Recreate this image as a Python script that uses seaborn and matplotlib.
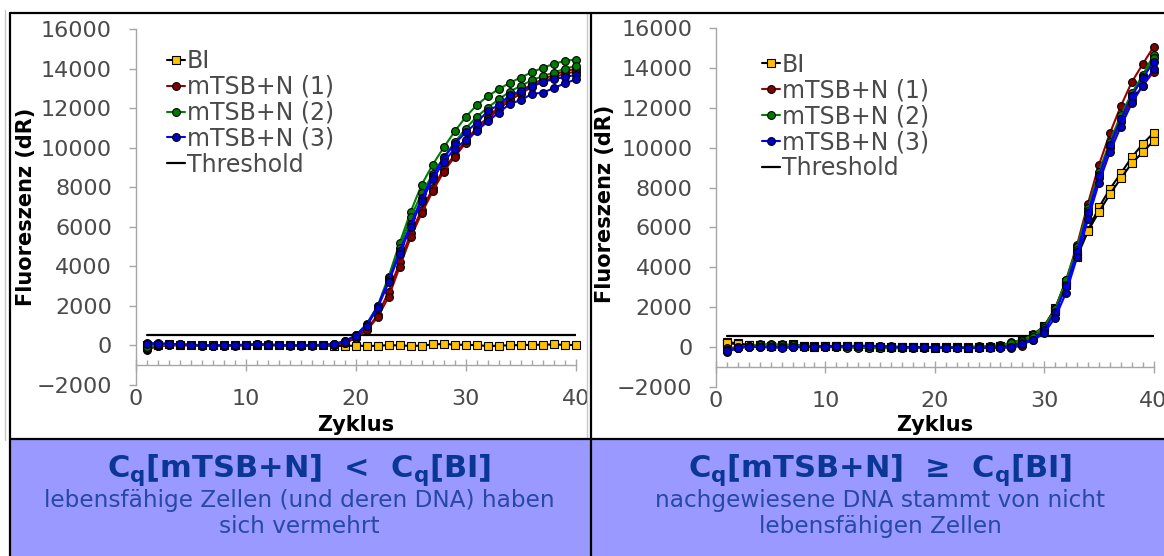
import matplotlib
matplotlib.use("Agg")
import matplotlib.pyplot as plt
from matplotlib.lines import Line2D
from matplotlib.patches import Rectangle
from matplotlib.ticker import MultipleLocator
import seaborn as sns
import pandas as pd

# ---------------- data ----------------
cycles = list(range(1, 41))

# left panel (Cq[mTSB+N] < Cq[BI])
left_bi_1 = [30, 40, 50, 40, 30, 20, 10, 20, 10, 30, 40, 30, 20, 10, 10, 0, 0, -20, -20, -10,
             -20, -20, 20, 0, -20, -10, 50, 80, 40, 30, 20, -30, -10, 10, 20, 30, 40, 50, 30, 20]
left_m1_1 = [-220, -40, 0, 10, 10, -20, -10, 0, -10, 20, 30, 20, 10, 0, -10, -10, 0, 20, 120, 400,
             810, 1540, 2720, 4200, 5670, 6860, 7950, 8930, 9650, 10360, 11030, 11540, 12080, 12510, 12880, 13220, 13470, 13690, 13890, 13990]
left_m1_2 = [-180, -20, 10, 20, 0, -10, -20, -10, 0, 20, 30, 20, 0, -10, -10, 0, 10, 30, 110, 380,
             760, 1430, 2460, 3980, 5470, 6700, 7800, 8800, 9550, 10250, 10900, 11450, 11950, 12400, 12750, 13080, 13350, 13560, 13750, 13860]
left_m2_1 = [-120, 60, 80, 60, 30, 0, -20, -10, 0, 20, 50, 40, 20, 0, 10, 0, 20, 60, 220, 505,
             1095, 2000, 3490, 5190, 6770, 8140, 9150, 10020, 10830, 11570, 12160, 12620, 12970, 13290, 13560, 13830, 14050, 14250, 14400, 14470]
left_m2_2 = [-60, 40, 60, 40, 20, 0, -20, -10, 0, 20, 40, 30, 10, 0, 0, 0, 10, 40, 190, 480,
             1060, 1950, 3400, 4950, 6480, 7700, 8670, 9520, 10280, 10980, 11570, 12040, 12450, 12850, 13140, 13420, 13630, 13810, 14000, 14150]
left_m3_1 = [120, 110, 90, 60, 40, 10, 0, 10, 20, 40, 60, 50, 30, 10, 10, 15, 40, 66, 218, 506,
             1028, 1990, 3306, 4775, 6125, 7460, 8590, 9480, 10220, 10780, 11280, 11860, 12170, 12670, 12880, 13140, 13340, 13470, 13590, 13690]
left_m3_2 = [90, 100, 80, 50, 30, 0, -10, 0, 10, 30, 50, 40, 20, 0, 0, 10, 30, 60, 200, 480,
             980, 1900, 3200, 4650, 6000, 7300, 8400, 9300, 9950, 10390, 10860, 11340, 11780, 12220, 12420, 12720, 12800, 13020, 13270, 13460]
left_threshold = 520

# right panel (Cq[mTSB+N] >= Cq[BI])
right_bi_1 = [250, 170, 100, 80, 60, 70, 120, 60, 20, 40, 50, 40, 30, 20, 10, 0, -10, -20, -20, -30,
              -20, -20, -30, -20, -10, 40, 100, 370, 590, 1040, 1930, 3270, 4610, 5860, 7000, 7930, 8710, 9520, 10190, 10750]
right_bi_2 = [200, 130, 80, 70, 50, 60, 100, 50, 10, 30, 40, 30, 20, 10, 0, -10, -20, -30, -30, -40,
              -30, -30, -40, -30, -20, 20, 80, 320, 540, 980, 1800, 3100, 4520, 5810, 6780, 7660, 8460, 9220, 9770, 10350]
right_m1_1 = [-100, -40, 0, 20, 30, 20, 10, 0, -10, -10, 0, 10, 20, 20, 10, 0, -10, -20, -20, -10,
              -20, -30, -30, -20, -10, -10, -20, 85, 640, 1040, 1930, 3350, 5110, 7200, 9130, 10720, 12090, 13290, 14200, 15070]
right_m1_2 = [-60, -20, 10, 30, 30, 20, 0, -10, -20, -10, 10, 20, 30, 20, 0, -10, -20, -30, -30, -20,
              -30, -40, -40, -30, -20, -20, -40, 60, 520, 950, 1800, 3150, 4800, 6700, 8500, 10000, 11300, 12400, 13100, 13820]
right_m2_1 = [-150, -20, 60, 120, 140, 120, 100, 60, 20, 10, 0, -20, -30, -40, -50, -60, -60, -50, -40, -30,
              -30, -20, 0, 20, 50, 80, 220, 370, 590, 1040, 1890, 3350, 5000, 6950, 8790, 10300, 11640, 12730, 13650, 14660]
right_m2_2 = [-200, -50, 30, 90, 110, 100, 80, 40, 0, -10, -20, -40, -50, -60, -60, -70, -70, -60, -50, -40,
              -40, -30, -10, 10, 30, 60, 180, 320, 520, 950, 1760, 3100, 4890, 6800, 8650, 10100, 11450, 12600, 13550, 14500]
right_m3_1 = [-250, -60, 20, 0, -20, -30, -20, 0, 10, 20, 30, 40, 60, 60, 40, 20, 0, -10, -10, -20,
              -30, -30, -50, -40, -30, -20, 0, 200, 370, 840, 1710, 3050, 4770, 6700, 8590, 10140, 11430, 12600, 13490, 14320]
right_m3_2 = [-200, -40, 10, -10, -30, -40, -30, -10, 0, 10, 20, 30, 40, 40, 20, 0, -20, -30, -30, -40,
              -50, -50, -70, -60, -50, -40, -20, 150, 330, 700, 1470, 2720, 4490, 6400, 8240, 9770, 11060, 12230, 13120, 13940]
right_threshold = 540

series_names = ["BI", "mTSB+N (1)", "mTSB+N (2)", "mTSB+N (3)"]
threshold_name = "Threshold"
y_ticks = list(range(-2000, 16001, 2000))
x_ticks = [0, 10, 20, 30, 40]
x_label = "Zyklus"
y_label = "Fluoreszenz (dR)"

left_title = r"$\mathbf{C_q[mTSB{+}N]}$" + "  <  " + r"$\mathbf{C_q[BI]}$"
left_sub = ["lebensfähige Zellen (und deren DNA) haben", "sich vermehrt"]
right_title = r"$\mathbf{C_q[mTSB{+}N]}$" + "  ≥  " + r"$\mathbf{C_q[BI]}$"
right_sub = ["nachgewiesene DNA stammt von nicht", "lebensfähigen Zellen"]

# ---------------- style ----------------
sns.set_theme(style="white")
plt.rcParams["font.family"] = ["DejaVu Sans"]
plt.rcParams["mathtext.fontset"] = "dejavusans"

W, H = 1164, 556
fig = plt.figure(figsize=(W / 100, H / 100), dpi=100)
fig.patch.set_facecolor("white")

def fx(x):
    return x / W

def fy(y):
    return 1 - y / H

styles = {
    "BI": dict(color="black", marker="s", markerfacecolor="#FFC000", markersize=5.2),
    "mTSB+N (1)": dict(color="#990000", marker="o", markerfacecolor="#800000", markersize=5.6),
    "mTSB+N (2)": dict(color="#008000", marker="o", markerfacecolor="#007A00", markersize=5.6),
    "mTSB+N (3)": dict(color="#0000FF", marker="o", markerfacecolor="#0000C8", markersize=5.6),
}

def build_frame(groups):
    rows = []
    for name, reps in groups.items():
        for r, vals in enumerate(reps):
            for c, v in zip(cycles, vals):
                rows.append({"Zyklus": c, "dR": v, "Serie": name, "rep": r})
    return pd.DataFrame(rows)

left_df = build_frame({
    "BI": [left_bi_1],
    "mTSB+N (1)": [left_m1_1, left_m1_2],
    "mTSB+N (2)": [left_m2_1, left_m2_2],
    "mTSB+N (3)": [left_m3_1, left_m3_2],
})
right_df = build_frame({
    "BI": [right_bi_1, right_bi_2],
    "mTSB+N (1)": [right_m1_1, right_m1_2],
    "mTSB+N (2)": [right_m2_1, right_m2_2],
    "mTSB+N (3)": [right_m3_1, right_m3_2],
})

tick_col = "#4A4A4A"
axis_col = "#A6A6A6"

def draw_panel(ax, df, thr, legend_anchor):
    for name in series_names:
        sub = df[df["Serie"] == name]
        st = styles[name]
        sns.lineplot(data=sub, x="Zyklus", y="dR", units="rep", estimator=None,
                     ax=ax, color=st["color"], marker=st["marker"],
                     markerfacecolor=st["markerfacecolor"], markeredgecolor="black",
                     markeredgewidth=0.8, markersize=st["markersize"], linewidth=1.5,
                     legend=False, clip_on=False, zorder=3)
    sns.lineplot(x=[cycles[0], cycles[-1]], y=[thr, thr], ax=ax, color="black",
                 linewidth=1.6, legend=False, zorder=2)
    ax.set_xlim(0, 40)
    ax.set_ylim(-2000, 16000)
    ax.set_xticks(x_ticks)
    ax.set_yticks(y_ticks)
    ax.xaxis.set_minor_locator(MultipleLocator(1))
    ax.set_xlabel("")
    ax.set_ylabel("")
    for s in ["top", "right"]:
        ax.spines[s].set_visible(False)
    ax.spines["bottom"].set_position(("data", -1000))
    for s in ["left", "bottom"]:
        ax.spines[s].set_color(axis_col)
        ax.spines[s].set_linewidth(1.0)
    ax.tick_params(axis="y", which="major", direction="out", length=5, width=1,
                   color=axis_col, labelsize=16, labelcolor=tick_col, pad=12, left=True)
    ax.tick_params(axis="x", which="major", direction="inout", length=8.6, width=1,
                   color=axis_col, labelsize=16, labelcolor=tick_col, pad=13, bottom=True)
    ax.tick_params(axis="x", which="minor", direction="in", length=3.6, width=1,
                   color=axis_col, bottom=True)
    ax.set_facecolor("none")
    handles = []
    for name in series_names:
        st = styles[name]
        handles.append(Line2D([0], [0], color=st["color"], marker=st["marker"],
                              markerfacecolor=st["markerfacecolor"], markeredgecolor="black",
                              markeredgewidth=0.8, markersize=st["markersize"], linewidth=1.5))
    handles.append(Line2D([0], [0], color="black", linewidth=1.6))
    ax.legend(handles, series_names + [threshold_name], loc="upper left",
              bbox_to_anchor=legend_anchor, bbox_transform=fig.transFigure,
              frameon=False, fontsize=17, labelcolor=tick_col, handlelength=0.75,
              handletextpad=0.1, labelspacing=0.08, borderpad=0, borderaxespad=0,
              numpoints=1)

# bottom blue box
fig.add_artist(Rectangle((fx(10), 0), fx(W - 10), (H - 438) / H, transform=fig.transFigure,
                         facecolor="#9999FF", edgecolor="none", zorder=-5))

axL = fig.add_axes([fx(135.5), fy(385), fx(575.8 - 135.5), (385 - 29.3) / H])
axR = fig.add_axes([fx(716), fy(386.7), fx(1153.6 - 716), (386.7 - 28.3) / H])
draw_panel(axL, left_df, left_threshold, (fx(167), fy(49)))
draw_panel(axR, right_df, right_threshold, (fx(762), fy(52.5)))

# axis titles
for cx, cy in [(26.5, 207), (605, 204)]:
    fig.text(fx(cx), fy(cy), y_label, rotation=90, ha="center", va="center",
             fontsize=15, fontweight="bold", color="black")
for cx in [355.7, 934.8]:
    fig.text(fx(cx), fy(425), x_label, ha="center", va="center",
             fontsize=15, fontweight="bold", color="black")

# clip left "40" label with chart area edge
fig.add_artist(Rectangle((fx(587.5), fy(420)), fx(3.0), (420 - 375) / H,
                         transform=fig.transFigure, facecolor="white", edgecolor="none", zorder=5))

# frame lines
def fline(x0, y0, x1, y1, color="black", lw=1.6):
    fig.add_artist(Line2D([fx(x0), fx(x1)], [fy(y0), fy(y1)], transform=fig.transFigure,
                          color=color, linewidth=lw, zorder=6))

fline(5, 10, 5, 440, color="#C8C8C8", lw=1.0)
fline(587, 13, 587, 438, color="#C8C8C8", lw=1.0)
fline(10, 13, W, 13)
fline(10, 13, 10, H)
fline(591, 13, 591, H)
fline(10, 438.5, W, 438.5)

# bottom texts
title_col = "#0A3796"
sub_col = "#2848A8"
for cx, title, subs in [(299, left_title, left_sub), (880, right_title, right_sub)]:
    fig.text(fx(cx), fy(477), title, ha="center", va="baseline", fontsize=22,
             fontweight="bold", color=title_col, zorder=7)
    fig.text(fx(cx), fy(506.5), subs[0], ha="center", va="baseline", fontsize=16.7,
             color=sub_col, zorder=7)
    fig.text(fx(cx), fy(533), subs[1], ha="center", va="baseline", fontsize=16.7,
             color=sub_col, zorder=7)

fig.savefig("out.png", dpi=100)
